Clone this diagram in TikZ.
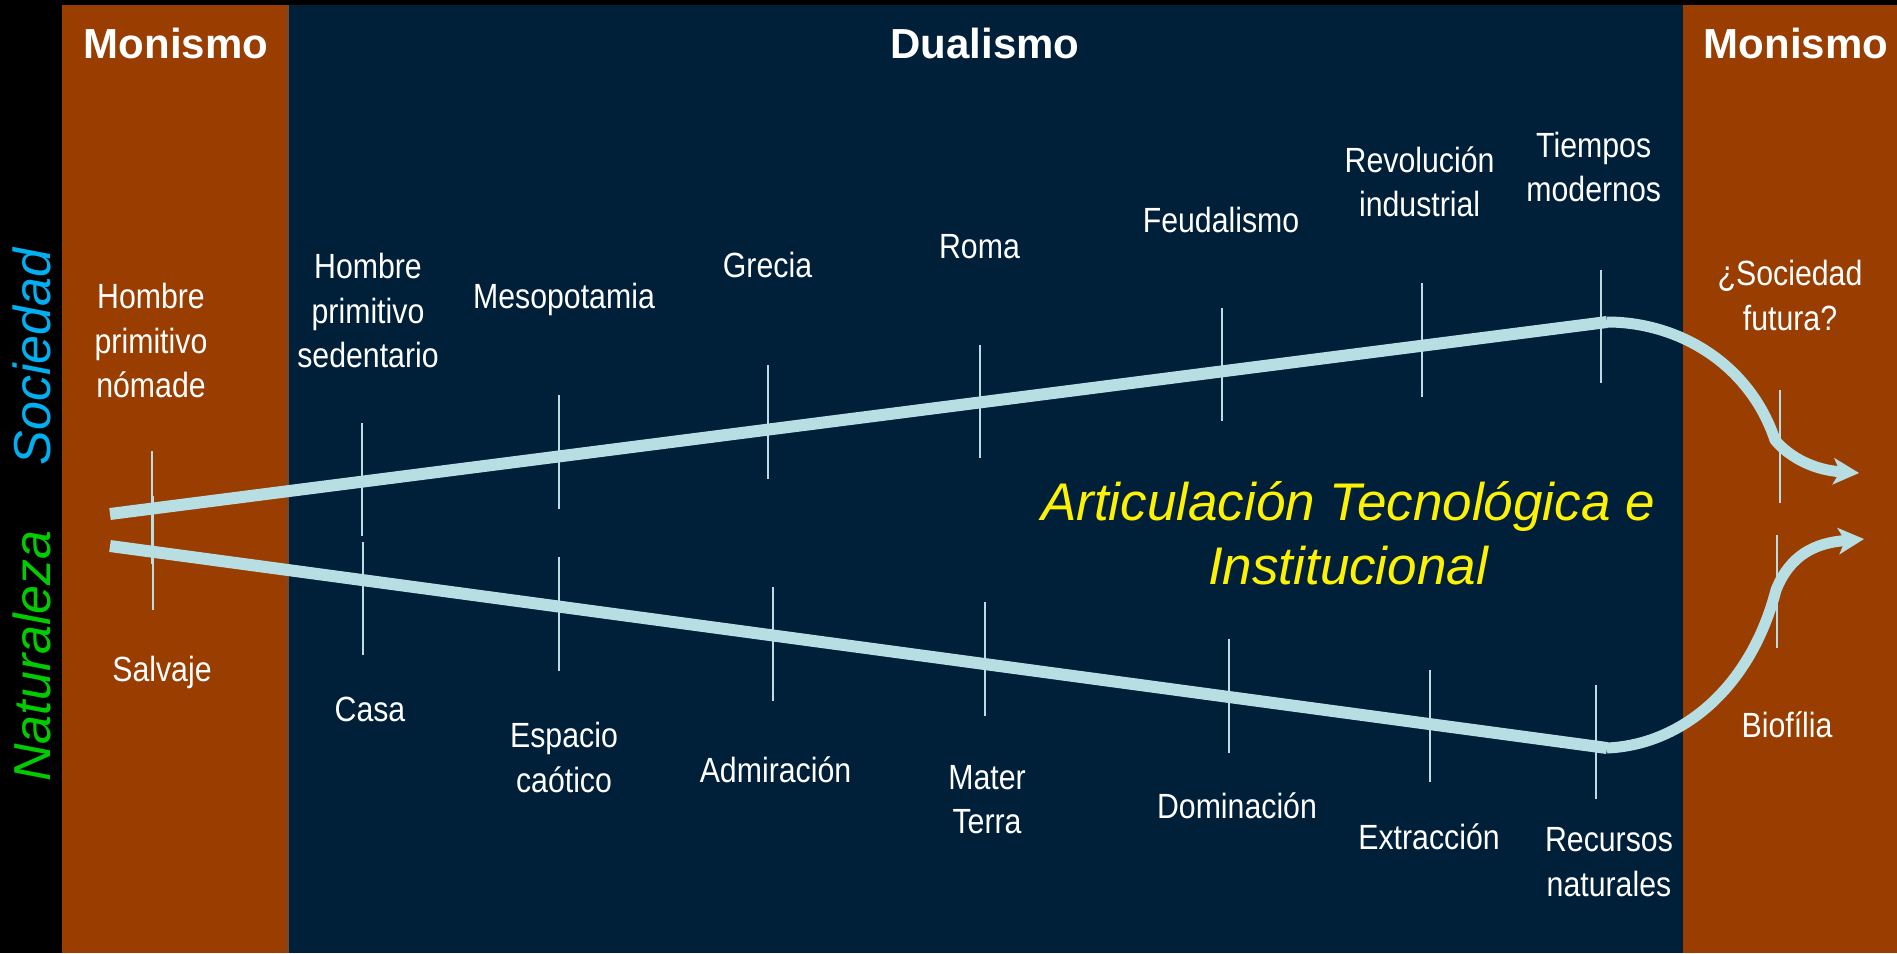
\documentclass[tikz,border=0pt]{standalone}
\usepackage{fontspec}
\setmainfont{Liberation Sans}
\newfontfamily\narrowfont[FakeStretch=0.865]{Liberation Sans}
\usetikzlibrary{arrows.meta}
\definecolor{bgbrown}{HTML}{993D00}
\definecolor{bgnavy}{HTML}{00203A}
\definecolor{flow}{HTML}{B7DEE2}
\definecolor{socblue}{HTML}{00B0F0}
\definecolor{natgreen}{HTML}{00CC00}
\definecolor{seam}{HTML}{6E4B35}
\begin{document}
\begin{tikzpicture}[x=1pt,y=-1pt,
  lbl/.style={text=white, font=\narrowfont\fontsize{35}{44.5}\selectfont, align=center, anchor=base, inner sep=0pt},
  hdr/.style={text=white, font=\bfseries\fontsize{42}{50}\selectfont, anchor=base, inner sep=0pt},
  sidelbl/.style={font=\itshape\fontsize{52}{60}\selectfont, rotate=90, anchor=base, inner sep=0pt},
  flowline/.style={line width=12pt, draw=flow},
  futurecurve/.style={line width=11pt, draw=flow, line join=round,
    -{Stealth[length=26pt,width=27pt,inset=7pt,line width=0pt]}},
  tickline/.style={line width=2pt, draw=flow}]
\useasboundingbox (0,0) rectangle (1897,953);
% background bands
\fill[black] (0,0) rectangle (1897,953);
\fill[bgbrown] (62,5) rectangle (288,953);
\fill[bgnavy] (288,5) rectangle (1683,953);
\fill[bgbrown] (1683,5) rectangle (1897,953);
\draw[seam, line width=1.5pt] (288,5) -- (288,953);
% headers
\node[hdr] (monL) at (176,58) {Monismo};
\node[hdr] (dual) at (985,58) {Dualismo};
\node[hdr] (monR) at (1796,58) {Monismo};
% side labels
\node[sidelbl, text=socblue] (soc) at (50,357) {Sociedad};
\node[sidelbl, text=natgreen] (nat) at (50,656) {Naturaleza};
% main lines
\coordinate (uL) at (110,514); \coordinate (uR) at (1607,322);
\coordinate (lL) at (110,546); \coordinate (lR) at (1607,748);
\coordinate (uK) at (1775,440); \coordinate (uA) at (1859,473);
\coordinate (lK) at (1776,590); \coordinate (lA) at (1864,539);
\draw[flowline] (uL) -- (uR);
\draw[flowline] (lL) -- (lR);
\draw[futurecurve] (uR) .. controls (1680,322) and (1750,365) .. (uK)
  .. controls (1790,458) and (1815,470) .. (uA);
\draw[futurecurve] (lR) .. controls (1680,745) and (1750,690) .. (lK)
  .. controls (1790,555) and (1815,543) .. (lA);
% ticks
\foreach \x/\a/\b in {152/451/564, 362/423/536, 559/395/509, 767.5/365/479,
  979.5/345/458, 1221.5/308/421, 1421.5/283/396.5, 1601/269.5/383,
  153/496/610, 363/542/655, 559/557/671, 772.7/587/701, 984.6/602/715.6,
  1229/639/752.6, 1430/669.5/782, 1596.4/685/798.6,
  1780/390/503, 1777/535/648}
  \draw[tickline] (\x,\a) -- (\x,\b);
% upper labels (base anchor = baseline of the last line)
\node[lbl] (nomade) at (151,397.5) {Hombre\\primitivo\\nómade};
\node[lbl] (sedent) at (368,367.5) {Hombre\\primitivo\\sedentario};
\node[lbl] (meso) at (564,308.5) {Mesopotamia};
\node[lbl] (grecia) at (767.5,277.5) {Grecia};
\node[lbl] (roma) at (979.5,258.5) {Roma};
\node[lbl] (feud) at (1221,232) {Feudalismo};
\node[lbl] (revol) at (1419.6,216.8) {Revolución\\industrial};
\node[lbl] (tiempos) at (1593.7,201.5) {Tiempos\\modernos};
\node[lbl] (futura) at (1790,330) {¿Sociedad\\futura?};
% lower labels
\node[lbl] (salvaje) at (162,681.5) {Salvaje};
\node[lbl] (casa) at (370,721) {Casa};
\node[lbl] (espacio) at (564,792) {Espacio\\caótico};
\node[lbl] (admir) at (775.5,782.5) {Admiración};
\node[lbl] (mater) at (987,833.5) {Mater\\Terra};
\node[lbl] (domin) at (1237,818.5) {Dominación};
\node[lbl] (extrac) at (1429,849.5) {Extracción};
\node[lbl] (recursos) at (1609,896) {Recursos\\naturales};
\node[lbl] (biofilia) at (1787,737.5) {Biofília};
% centre statement
\node[text=yellow, font=\itshape\fontsize{53}{64}\selectfont, align=center, anchor=base, inner sep=0pt]
  (artic) at (1348,584) {Articulación Tecnológica e\\Institucional};
\end{tikzpicture}
\end{document}
